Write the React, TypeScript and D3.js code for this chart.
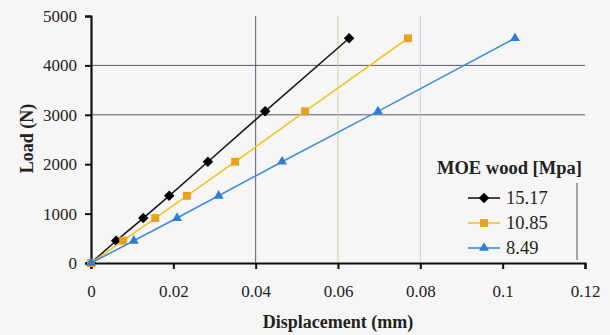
import { useEffect, useRef } from 'react'
import * as d3 from 'd3'

const loads = [0, 450, 910, 1360, 2050, 3070, 4550]
const dispHigh = [0, 0.0061, 0.0127, 0.019, 0.0284, 0.0423, 0.0627]
const dispMid = [0, 0.0078, 0.0156, 0.0233, 0.035, 0.052, 0.077]
const dispLow = [0, 0.0104, 0.0209, 0.031, 0.0464, 0.0697, 0.103]
const seriesNames = ['15.17', '10.85', '8.49']
const xTicks = [0, 0.02, 0.04, 0.06, 0.08, 0.1, 0.12]
const yTicks = [0, 1000, 2000, 3000, 4000, 5000]

export default function App() {
  const ref = useRef<SVGSVGElement | null>(null)

  useEffect(() => {
    if (!ref.current) return
    const width = 610
    const height = 335
    const margin = { top: 16, right: 25, bottom: 72, left: 91 }
    const font = "'Liberation Serif', 'Times New Roman', 'DejaVu Serif', serif"

    const svg = d3.select(ref.current)
    svg.selectAll('*').remove()

    svg.append('rect').attr('width', width).attr('height', height).attr('fill', '#f6f6f6')

    const x = d3.scaleLinear().domain([0, 0.12]).range([margin.left, width - margin.right])
    const y = d3.scaleLinear().domain([0, 5000]).range([height - margin.bottom, margin.top])

    const series = [
      { name: seriesNames[0], xs: dispHigh, line: '#1a1a1a', fill: '#000000', shape: d3.symbolDiamond2, size: 70 },
      { name: seriesNames[1], xs: dispMid, line: '#f2c428', fill: '#e8a21e', shape: d3.symbolSquare2, size: 80 },
      { name: seriesNames[2], xs: dispLow, line: '#3f8ede', fill: '#2f7bd6', shape: d3.symbolTriangle2, size: 70 },
    ]

    // gridlines
    const grid = svg.append('g')
    ;[3000, 4000].forEach((v) => {
      grid
        .append('line')
        .attr('x1', x(0))
        .attr('x2', x(0.12))
        .attr('y1', y(v))
        .attr('y2', y(v))
        .attr('stroke', '#5d5868')
        .attr('stroke-width', 1)
    })
    const vGrid = [
      { v: 0.04, c: '#5d5868' },
      { v: 0.06, c: '#c9d69a' },
      { v: 0.08, c: '#b8d4ea' },
    ]
    vGrid.forEach((g) => {
      grid
        .append('line')
        .attr('x1', x(g.v))
        .attr('x2', x(g.v))
        .attr('y1', y(5000))
        .attr('y2', y(0))
        .attr('stroke', g.c)
        .attr('stroke-width', 1)
    })

    // axes
    const xAxis = svg
      .append('g')
      .attr('transform', `translate(0,${y(0)})`)
      .call(
        d3
          .axisBottom(x)
          .tickValues(xTicks)
          .tickSize(6)
          .tickPadding(16)
          .tickFormat((d) => `${d}`)
      )
    const yAxis = svg
      .append('g')
      .attr('transform', `translate(${x(0)},0)`)
      .call(d3.axisLeft(y).tickValues(yTicks).tickSize(6).tickPadding(8).tickFormat((d) => `${d}`))
    ;[xAxis, yAxis].forEach((a) => {
      a.attr('font-family', font).attr('font-size', 17)
      a.select('.domain').attr('stroke', '#111').attr('stroke-width', 2.2)
      a.selectAll('.tick line').attr('stroke', '#111').attr('stroke-width', 2)
      a.selectAll('text').attr('fill', '#222').style('font-family', font).style('font-size', '17px')
    })

    // lines + markers
    series.forEach((s) => {
      const pts = s.xs.map((d, i) => [d, loads[i]] as [number, number])
      svg
        .append('path')
        .datum(pts)
        .attr('fill', 'none')
        .attr('stroke', s.line)
        .attr('stroke-width', 1.6)
        .attr('d', d3.line<[number, number]>().x((d) => x(d[0])).y((d) => y(d[1])))
      svg
        .append('g')
        .selectAll('path')
        .data(pts)
        .join('path')
        .attr('transform', (d) => `translate(${x(d[0])},${y(d[1])})`)
        .attr('d', d3.symbol().type(s.shape).size(s.size)())
        .attr('fill', s.fill)
    })

    // axis titles
    svg
      .append('text')
      .attr('x', (x(0) + x(0.12)) / 2)
      .attr('y', 328)
      .attr('text-anchor', 'middle')
      .style('font-family', font)
      .style('font-size', '18px')
      .style('font-weight', 'bold')
      .attr('fill', '#222')
      .text('Displacement (mm)')
    svg
      .append('text')
      .attr('transform', `translate(33,${y(2500) - 1}) rotate(-90)`)
      .attr('text-anchor', 'middle')
      .style('font-family', font)
      .style('font-size', '18px')
      .style('font-weight', 'bold')
      .attr('fill', '#222')
      .text('Load (N)')

    // legend
    const lg = svg.append('g')
    lg.append('text')
      .attr('x', 437)
      .attr('y', 174)
      .style('font-family', font)
      .style('font-size', '18.5px')
      .style('font-weight', 'bold')
      .attr('fill', '#222')
      .text('MOE wood [Mpa]')
    lg.append('line')
      .attr('x1', 577)
      .attr('x2', 577)
      .attr('y1', 183)
      .attr('y2', 260)
      .attr('stroke', '#555')
      .attr('stroke-width', 1)
    series.forEach((s, i) => {
      const ly = 198 + i * 25
      lg.append('line')
        .attr('x1', 468)
        .attr('x2', 500)
        .attr('y1', ly)
        .attr('y2', ly)
        .attr('stroke', s.line)
        .attr('stroke-width', 1.6)
      lg.append('path')
        .attr('transform', `translate(484,${ly})`)
        .attr('d', d3.symbol().type(s.shape).size(s.size)())
        .attr('fill', s.fill)
      lg.append('text')
        .attr('x', 506)
        .attr('y', ly + 6)
        .style('font-family', font)
        .style('font-size', '18.5px')
        .attr('fill', '#222')
        .text(s.name)
    })
  }, [])

  return <svg ref={ref} width={610} height={335} style={{ display: 'block', position: 'absolute', left: 0, top: 0 }} />
}
